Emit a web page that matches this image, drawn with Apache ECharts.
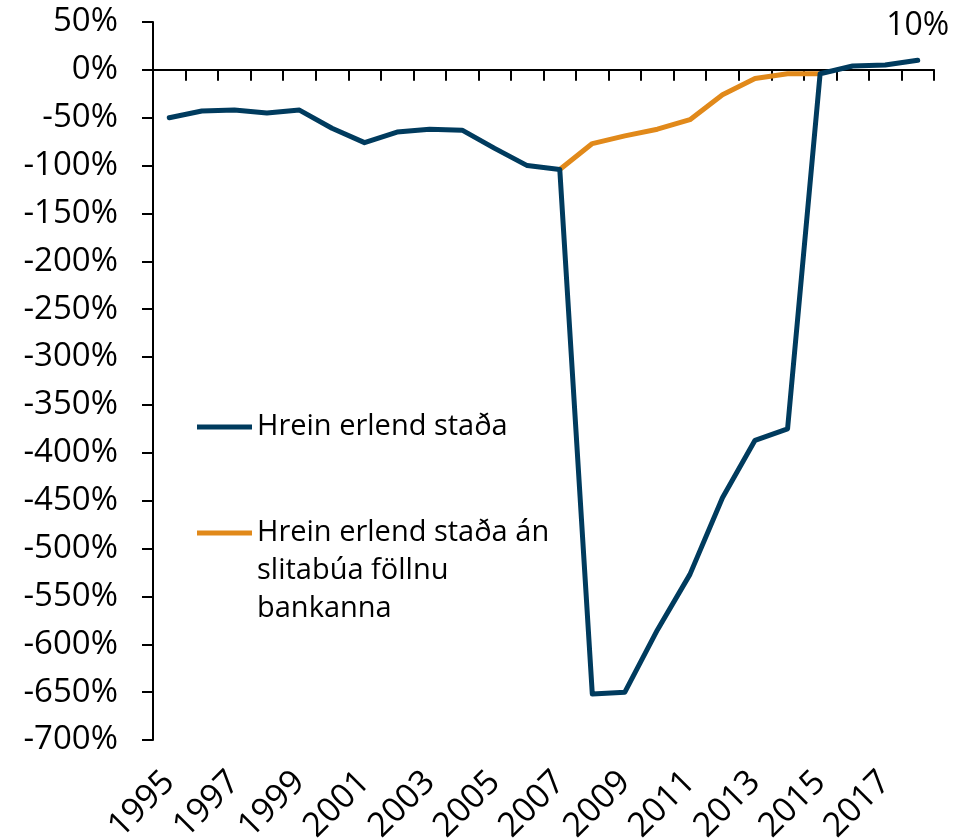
<!DOCTYPE html>
<html>
<head>
<meta charset="utf-8">
<script src="https://cdn.jsdelivr.net/npm/echarts@6/dist/echarts.min.js"></script>
<style>
  html, body { margin: 0; padding: 0; background: #fff; }
  #chart { width: 971px; height: 839px; }
</style>
</head>
<body>
<div id="chart"></div>
<script>
const years = ['1995', '1996', '1997', '1998', '1999', '2000', '2001', '2002', '2003', '2004',
  '2005', '2006', '2007', '2008', '2009', '2010', '2011', '2012', '2013', '2014',
  '2015', '2016', '2017', '2018']

// Hrein erlend staða, % of GDP
const netPosition = [-50, -43, -42, -45, -42, -61, -76, -65, -62, -63,
  -82, -100, -104, -652, -650, -585, -527, -447, -387, -375,
  -4, 4, 5, 10]

// án slitabúa föllnu bankanna
const netPositionExEstates = [null, null, null, null, null, null, null, null, null, null,
  null, null, -104, -77, -69, -62, -52, -26, -9, -4,
  -4, null, null, null]

const nameMain = 'Hrein erlend staða'
const nameEx = 'Hrein erlend staða án slitabúa föllnu bankanna'

const font = '"Open Sans", sans-serif'
const navy = '#003b5e'
const orange = '#e1891a'

const chart = echarts.init(document.getElementById('chart'))

// only the last point carries a value label
const lastIdx = netPosition.length - 1
const mainData = netPosition.map((v, i) => i === lastIdx
  ? { value: v, label: { show: true, position: 'top', distance: 18, formatter: '{c}%', fontSize: 32, color: '#000', fontFamily: font } }
  : v)

chart.setOption({
  animation: false,
  grid: { left: 153, right: 37, top: 22, bottom: 99, outerBoundsMode: 'none' },
  legend: [
    {
      data: [nameMain],
      left: 192, top: 403,
      icon: 'rect', itemWidth: 55, itemHeight: 5,
      textStyle: { fontSize: 29, fontFamily: font, color: '#000', lineHeight: 38 }
    },
    {
      data: [nameEx],
      left: 192, top: 433,
      icon: 'rect', itemWidth: 55, itemHeight: 5,
      // two blank lines on top so the icon lines up with the first text line
      formatter: () => ' \n \nHrein erlend staða án\nslitabúa föllnu\nbankanna',
      textStyle: { fontSize: 29, fontFamily: font, color: '#000', lineHeight: 38 }
    }
  ],
  xAxis: [
    {
      type: 'category',
      data: years,
      boundaryGap: true,
      axisLine: { onZero: true, lineStyle: { color: '#000', width: 2 } },
      axisTick: { show: true, interval: 0, length: 11, lineStyle: { color: '#000', width: 2 } },
      axisLabel: { show: false }
    },
    {
      type: 'category',
      data: years,
      position: 'bottom',
      boundaryGap: true,
      axisLine: { show: false, onZero: false },
      axisTick: { show: false },
      axisLabel: { interval: 1, rotate: 45, margin: 37, fontSize: 34, fontFamily: font, color: '#000' }
    }
  ],
  yAxis: {
    type: 'value',
    min: -700, max: 50, interval: 50,
    axisLine: { show: true, lineStyle: { color: '#000', width: 2 } },
    axisTick: { show: true, length: 11, lineStyle: { color: '#000', width: 2 } },
    splitLine: { show: false },
    axisLabel: { formatter: '{value}%', fontSize: 33, fontFamily: font, color: '#000', margin: 35 }
  },
  series: [
    {
      name: nameMain,
      type: 'line',
      data: mainData,
      color: navy,
      symbol: 'circle',
      symbolSize: 1,
      lineStyle: { width: 5, cap: 'round', join: 'round' },
      z: 3
    },
    {
      name: nameEx,
      type: 'line',
      data: netPositionExEstates,
      color: orange,
      symbol: 'none',
      lineStyle: { width: 5, cap: 'round', join: 'round' },
      z: 2
    }
  ]
})
</script>
</body>
</html>
